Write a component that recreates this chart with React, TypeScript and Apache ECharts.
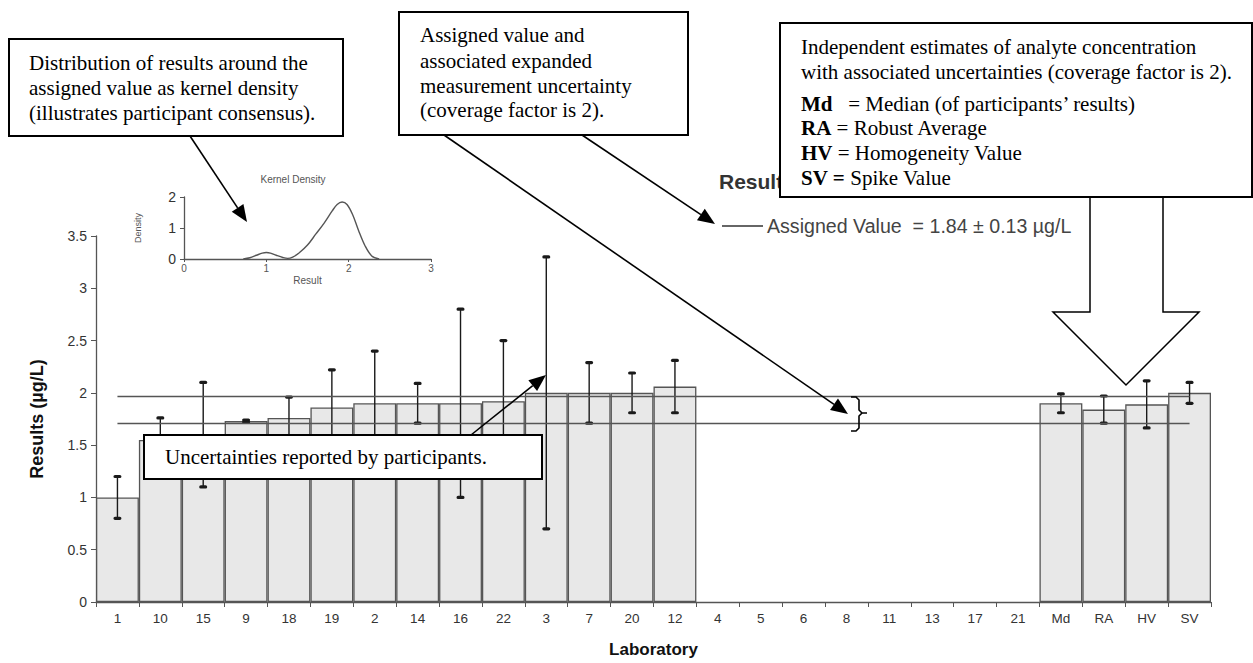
import React, { useEffect, useRef } from "react";
import * as echarts from "echarts";

// ---- data ----
const labs = ["1", "10", "15", "9", "18", "19", "2", "14", "16", "22", "3", "7", "20", "12", "4", "5", "6", "8", "11", "13", "17", "21", "Md", "RA", "HV", "SV"];
const results: (number | null)[] = [1.0, 1.55, 1.6, 1.73, 1.76, 1.86, 1.9, 1.9, 1.9, 1.92, 2.0, 2.0, 2.0, 2.06, null, null, null, null, null, null, null, null, 1.9, 1.84, 1.89, 2.0];
const uncertainties: (number | null)[] = [0.2, 0.21, 0.5, 0.01, 0.2, 0.36, 0.5, 0.19, 0.9, 0.58, 1.3, 0.29, 0.19, 0.25, null, null, null, null, null, null, null, null, 0.09, 0.13, 0.225, 0.1];
const assignedValue = 1.84;
const assignedU = 0.13;
const yTicks = { min: 0, max: 3.5, interval: 0.5 };

// kernel density inset
const kdX = [0.72, 0.8, 0.88, 0.95, 1.0, 1.05, 1.12, 1.2, 1.26, 1.32, 1.4, 1.5, 1.6, 1.7, 1.8, 1.86, 1.92, 1.98, 2.05, 2.12, 2.2, 2.28, 2.37];
const kdY = [0, 0.04, 0.12, 0.19, 0.21, 0.19, 0.12, 0.05, 0.02, 0.06, 0.2, 0.45, 0.8, 1.15, 1.55, 1.76, 1.84, 1.76, 1.42, 0.92, 0.42, 0.1, 0];

const SERIF = "'Liberation Serif', 'Times New Roman', serif";
const SANS = "'Liberation Sans', Arial, sans-serif";
const FS = 21;

function arrow(x1: number, y1: number, x2: number, y2: number, len = 17, hw = 7) {
  const dx = x2 - x1, dy = y2 - y1;
  const d = Math.sqrt(dx * dx + dy * dy);
  const ux = dx / d, uy = dy / d;
  const bx = x2 - ux * len, by = y2 - uy * len;
  const px = -uy, py = ux;
  return [
    { type: "line", shape: { x1, y1, x2: bx, y2: by }, style: { stroke: "#000", lineWidth: 1.6 } },
    { type: "polygon", shape: { points: [[x2, y2], [bx + px * hw, by + py * hw], [bx - px * hw, by - py * hw]] }, style: { fill: "#000" } },
  ];
}

function box(x: number, y: number, w: number, h: number) {
  return { type: "rect", shape: { x, y, width: w, height: h }, style: { fill: "#fff", stroke: "#000", lineWidth: 2 } };
}

function serifText(x: number, y: number, text: string, extra: any = {}) {
  return {
    type: "text",
    x,
    y,
    style: { text, fontFamily: SERIF, fontSize: FS, fill: "#000", verticalAlign: "middle", align: "left", ...extra },
  };
}

export default function App() {
  const ref = useRef<HTMLDivElement>(null);
  useEffect(() => {
    if (!ref.current) return;
    const chart = echarts.init(ref.current, undefined, { renderer: "svg" });

    const errData = labs
      .map((l, i) => (results[i] == null || uncertainties[i] == null ? null : [i, (results[i] as number) - (uncertainties[i] as number), (results[i] as number) + (uncertainties[i] as number)]))
      .filter((d) => d !== null);

    const upper = +(assignedValue + assignedU).toFixed(3);
    const lower = +(assignedValue - assignedU).toFixed(3);
    const first = labs[0];
    const last = labs[labs.length - 1];

    const b = { fontFamily: SERIF, fontSize: FS, fontWeight: "bold", fill: "#000" };

    const graphics: any[] = [
      // inset title
      { type: "text", x: 293, y: 179, style: { text: "Kernel Density", fontFamily: SANS, fontSize: 10, fill: "#555", align: "center", verticalAlign: "middle" } },
      // main title (partly hidden)
      { type: "text", x: 719, y: 181, style: { text: "Results", fontFamily: SANS, fontSize: 21, fontWeight: "bold", fill: "#333", align: "left", verticalAlign: "middle" } },
      // legend for assigned value
      { type: "line", shape: { x1: 722, y1: 226, x2: 763, y2: 226 }, style: { stroke: "#333", lineWidth: 1.6 } },
      { type: "text", x: 767, y: 226, style: { text: "Assigned Value  = 1.84 ± 0.13 µg/L", fontFamily: SANS, fontSize: 19.6, fill: "#444", align: "left", verticalAlign: "middle" } },
      // bracket
      { type: "polyline", shape: { points: [[851, 397], [856, 397], [859, 400], [859, 410], [862, 413], [867, 413]] }, style: { stroke: "#000", lineWidth: 1.6, fill: null } },
      { type: "polyline", shape: { points: [[862, 413], [859, 416], [859, 428], [856, 431], [851, 431]] }, style: { stroke: "#000", lineWidth: 1.6, fill: null } },
      // box 1
      box(9, 39, 334, 97),
      serifText(29, 63, "Distribution of results around the"),
      serifText(29, 88, "assigned value as kernel density"),
      serifText(29, 113, "(illustrates participant consensus)."),
      ...arrow(190, 136, 247, 222),
      // box 2
      box(399, 12, 289, 123),
      serifText(420, 35, "Assigned value and"),
      serifText(420, 61, "associated expanded"),
      serifText(420, 86, "measurement uncertainty"),
      serifText(420, 110, "(coverage factor is 2)."),
      ...arrow(444, 135, 848, 414),
      ...arrow(582, 135, 715, 224),
      // box 4
      box(144, 435, 398, 44),
      serifText(165, 457, "Uncertainties reported by participants."),
      ...arrow(471, 435, 546, 375),
      // big hollow arrow
      {
        type: "polygon",
        shape: { points: [[1090, 197], [1090, 312], [1053, 312], [1126, 385], [1199, 312], [1163, 312], [1163, 197]] },
        style: { fill: "#fff", stroke: "#000", lineWidth: 1.5 },
      },
      // box 3
      box(780, 23, 472, 174),
      serifText(801, 47, "Independent estimates of analyte concentration"),
      serifText(801, 72, "with associated uncertainties (coverage factor is 2)."),
      serifText(801, 104, "{b|Md}   = Median (of participants’ results)", { rich: { b } }),
      serifText(801, 128, "{b|RA} = Robust Average", { rich: { b } }),
      serifText(801, 153, "{b|HV} = Homogeneity Value", { rich: { b } }),
      serifText(801, 178, "{b|SV =} Spike Value", { rich: { b } }),
    ].map((g, i) => ({ ...g, z: 100 + i }));

    const option: any = {
      animation: false,
      backgroundColor: "#fff",
      grid: [
        { left: 96, right: 42, top: 236, bottom: 54, containLabel: false },
        { left: 184, top: 197, width: 247, height: 62, containLabel: false },
      ],
      xAxis: [
        {
          type: "category",
          gridIndex: 0,
          data: labs,
          boundaryGap: true,
          name: "Laboratory",
          nameLocation: "middle",
          nameGap: 39,
          nameTextStyle: { fontFamily: SANS, fontSize: 17, fontWeight: "bold", color: "#111" },
          axisLine: { lineStyle: { color: "#555", width: 1.3 } },
          axisTick: { show: true, length: 5, lineStyle: { color: "#555" } },
          axisLabel: { interval: 0, fontFamily: SANS, fontSize: 13.5, color: "#333", margin: 9 },
          splitLine: { show: false },
        },
        {
          type: "value",
          gridIndex: 1,
          min: 0,
          max: 3,
          interval: 1,
          name: "Result",
          nameLocation: "middle",
          nameGap: 16,
          nameTextStyle: { fontFamily: SANS, fontSize: 10, color: "#555" },
          axisLine: { lineStyle: { color: "#555", width: 1.3 } },
          axisTick: { show: true, length: 3, lineStyle: { color: "#555" } },
          axisLabel: { fontFamily: SANS, fontSize: 10, color: "#555", margin: 4 },
          splitLine: { show: false },
        },
      ],
      yAxis: [
        {
          type: "value",
          gridIndex: 0,
          min: yTicks.min,
          max: yTicks.max,
          interval: yTicks.interval,
          name: "Results (µg/L)",
          nameLocation: "middle",
          nameGap: 50,
          nameRotate: 90,
          nameTextStyle: { fontFamily: SANS, fontSize: 18, fontWeight: "bold", color: "#111" },
          axisLine: { show: true, lineStyle: { color: "#555", width: 1.3 } },
          axisTick: { show: true, length: 5, lineStyle: { color: "#555" } },
          axisLabel: { fontFamily: SANS, fontSize: 14, color: "#333", margin: 9 },
          splitLine: { show: false },
        },
        {
          type: "value",
          gridIndex: 1,
          min: 0,
          max: 2,
          interval: 1,
          name: "Density",
          nameLocation: "middle",
          nameGap: 42,
          nameRotate: 90,
          nameTextStyle: { fontFamily: SANS, fontSize: 9, color: "#555" },
          axisLine: { show: true, lineStyle: { color: "#555", width: 1.3 } },
          axisTick: { show: true, length: 4, lineStyle: { color: "#555" } },
          axisLabel: { fontFamily: SANS, fontSize: 14, color: "#333", margin: 8 },
          splitLine: { show: false },
        },
      ],
      series: [
        {
          type: "bar",
          xAxisIndex: 0,
          yAxisIndex: 0,
          data: results.map((v) => (v == null ? "-" : v)),
          barCategoryGap: "0%",
          itemStyle: { color: "#e8e8e8", borderColor: "#555", borderWidth: 1.3 },
          markLine: {
            silent: true,
            symbol: "none",
            label: { show: false },
            lineStyle: { color: "#555", width: 1.3, type: "solid" },
            data: [
              [{ coord: [first, upper] }, { coord: [last, upper] }],
              [{ coord: [first, lower] }, { coord: [last, lower] }],
            ],
          },
          z: 2,
        },
        {
          type: "custom",
          xAxisIndex: 0,
          yAxisIndex: 0,
          data: errData,
          encode: { x: 0, y: [1, 2] },
          z: 4,
          renderItem: (params: any, api: any) => {
            const lo = api.coord([api.value(0), api.value(1)]);
            const hi = api.coord([api.value(0), api.value(2)]);
            const c = "#1a1a1a";
            return {
              type: "group",
              children: [
                { type: "line", shape: { x1: lo[0], y1: lo[1], x2: hi[0], y2: hi[1] }, style: { stroke: c, lineWidth: 1.4 } },
                { type: "rect", shape: { x: hi[0] - 4, y: hi[1] - 1.6, width: 8, height: 3.2, r: 1.6 }, style: { fill: c } },
                { type: "rect", shape: { x: lo[0] - 4, y: lo[1] - 1.6, width: 8, height: 3.2, r: 1.6 }, style: { fill: c } },
              ],
            };
          },
        },
        {
          type: "line",
          xAxisIndex: 1,
          yAxisIndex: 1,
          data: kdX.map((x, i) => [x, kdY[i]]),
          smooth: 0.35,
          symbol: "none",
          lineStyle: { color: "#555", width: 1.4 },
        },
      ],
      graphic: graphics,
    };

    chart.setOption(option);
    return () => chart.dispose();
  }, []);

  return <div ref={ref} style={{ position: "fixed", left: 0, top: 0, width: 1253, height: 663, background: "#fff" }} />;
}
